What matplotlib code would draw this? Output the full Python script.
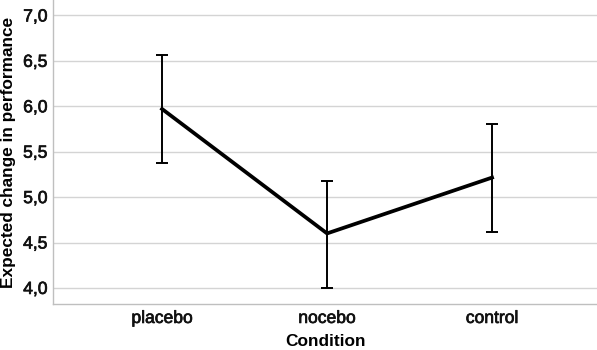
import matplotlib
matplotlib.use("Agg")
import matplotlib.pyplot as plt
import matplotlib.patheffects as pe
from matplotlib.ticker import FuncFormatter

CONDITIONS = ["placebo", "nocebo", "control"]
MEANS = [5.97, 4.60, 5.215]
CI_LOW = [5.375, 4.00, 4.62]
CI_HIGH = [6.56, 5.18, 5.805]
Y_TICKS = [4.0, 4.5, 5.0, 5.5, 6.0, 6.5, 7.0]

plt.rcParams["font.family"] = ["Liberation Sans", "DejaVu Sans"]


def main():
    fig = plt.figure(figsize=(5.97, 3.5), dpi=100)
    ax = fig.add_axes([53 / 597, 46 / 350, 544 / 597, 304 / 350])

    x = list(range(len(CONDITIONS)))
    err_lo = [m - lo for m, lo in zip(MEANS, CI_LOW)]
    err_hi = [hi - m for m, hi in zip(MEANS, CI_HIGH)]

    ax.errorbar(x, MEANS, yerr=[err_lo, err_hi], fmt="none", ecolor="black",
                elinewidth=1.4, capsize=4.2, capthick=1.4, zorder=3)
    ax.plot(x, MEANS, color="black", linewidth=2.7, zorder=4,
            solid_joinstyle="miter")

    ax.set_xlim(-0.661, 2.636)
    ax.set_ylim(3.823, 7.17)
    ax.set_yticks(Y_TICKS)
    ax.yaxis.set_major_formatter(FuncFormatter(lambda v, p: f"{v:.1f}".replace(".", ",")))
    ax.set_xticks(x)
    ax.set_xticklabels(CONDITIONS)

    ax.grid(axis="y", color="#d4d4d4", linewidth=1.0)
    ax.set_axisbelow(True)
    ax.tick_params(axis="both", length=0, labelcolor="#111111")
    ax.tick_params(axis="y", labelsize=12.6, pad=4)
    ax.tick_params(axis="x", labelsize=12.6, pad=5)

    # tick text in the original is rendered a bit heavier
    heavy = [pe.withStroke(linewidth=0.5, foreground="#111111")]
    for lbl in ax.get_xticklabels() + ax.get_yticklabels():
        lbl.set_path_effects(heavy)

    for side in ["top", "right"]:
        ax.spines[side].set_visible(False)
    for side in ["left", "bottom"]:
        ax.spines[side].set_color("#bfbfbf")
        ax.spines[side].set_linewidth(1.0)

    ax.set_xlabel("Condition", fontsize=12.4, fontweight="bold", labelpad=6)
    ax.set_ylabel("Expected change in performance", fontsize=12.4,
                  fontweight="bold", labelpad=5)

    fig.savefig("out.png", dpi=100)


if __name__ == "__main__":
    main()
